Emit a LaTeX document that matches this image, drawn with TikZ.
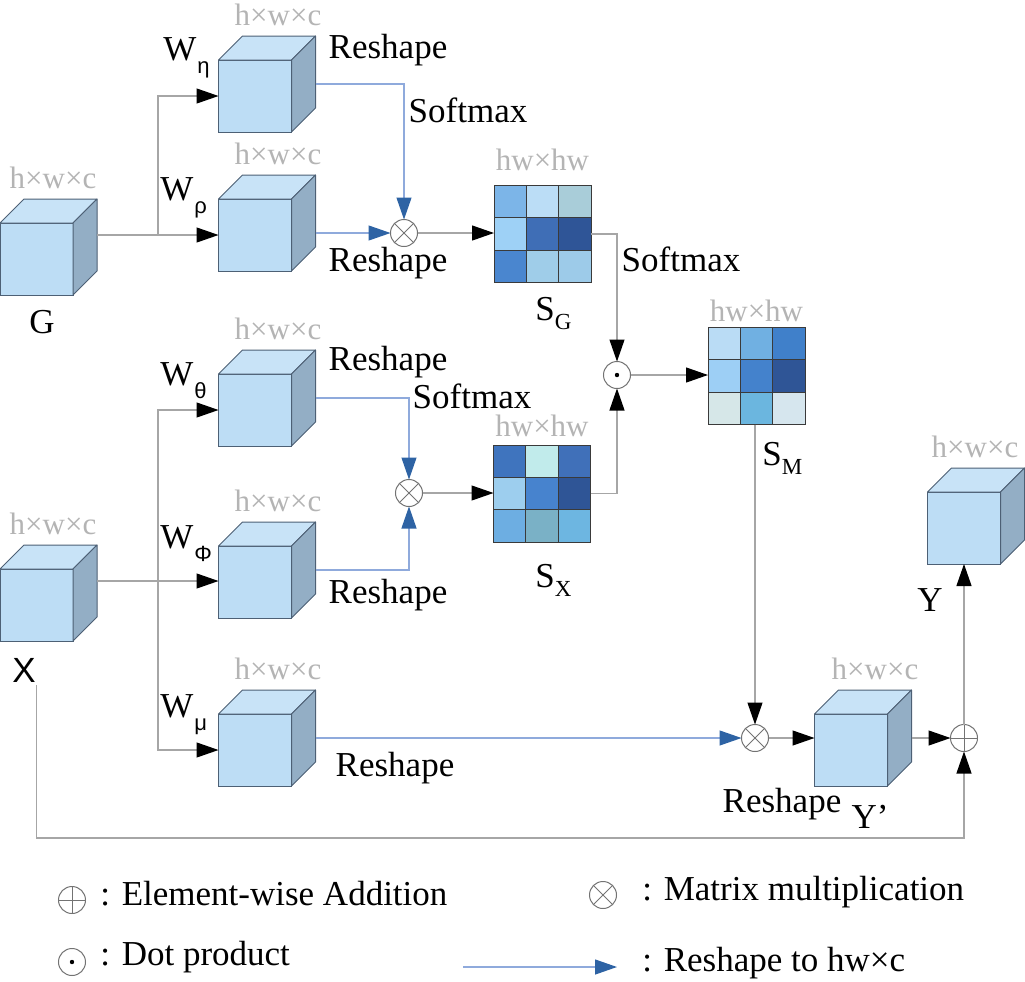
\documentclass[tikz,border=0pt]{standalone}
\usepackage{fontspec}
\setmainfont{Liberation Serif}
\newfontfamily\greekfont{Liberation Sans}
\usepackage{xcolor}
\usepackage{tikz}
\usetikzlibrary{
	arrows.meta,									% 箭头样式
}

\definecolor{cubefront}{HTML}{BDDDF5}
\definecolor{cubetop}{HTML}{C8E3F7}
\definecolor{cubeside}{HTML}{93AEC5}
\definecolor{cubeedge}{HTML}{4D6075}
\definecolor{lineg}{HTML}{A6A6A6}
\definecolor{lineb}{HTML}{8FAADC}
\definecolor{tipb}{HTML}{2E63A4}
\definecolor{dimg}{HTML}{B4B4B4}
\definecolor{cellline}{HTML}{3A3A3A}

\newcommand{\wsub}[1]{W\hspace{0.5pt}\raisebox{-6.5pt}{\fontsize{11}{11}\selectfont\greekfont #1}}
\newcommand{\ssub}[1]{S\raisebox{-4.5pt}{\fontsize{11.5}{11.5}\selectfont #1}}

\tikzset{
	cube/.style={draw=cubeedge, fill=cubefront, line width=0.5pt, minimum width=36.5pt, minimum height=36pt, inner sep=0pt, outer sep=0pt},
	face/.style={draw=cubeedge, line width=0.5pt, line join=round},
	smat/.style={minimum size=48.5pt, inner sep=0pt, outer sep=0pt},
	op/.style={circle, draw=black!55, line width=0.5pt, minimum size=13.5pt, inner sep=0pt, outer sep=0pt},
	mul/.style={op, path picture={\draw[black!55, line width=0.5pt] (path picture bounding box.north west) -- (path picture bounding box.south east) (path picture bounding box.north east) -- (path picture bounding box.south west);}},
	plus/.style={op, path picture={\draw[black!55, line width=0.5pt] (path picture bounding box.north) -- (path picture bounding box.south) (path picture bounding box.west) -- (path picture bounding box.east);}},
	dotp/.style={op, path picture={\fill (path picture bounding box.center) circle (1.1pt);}},
	arr/.style={draw=lineg, line width=0.6pt, -{Triangle[length=11pt, width=7.5pt, color=black]}},
	rarr/.style={draw=lineb, line width=0.6pt, -{Triangle[length=11pt, width=7.5pt, color=tipb]}},
	txt/.style={inner sep=1pt},
	lab/.style={inner sep=0pt},
	dim/.style={text=dimg, inner sep=0pt, font=\fontsize{15.5}{18}\selectfont},
}

\begin{document}
\begin{tikzpicture}[x=0.5pt, y=-0.5pt, font=\fontsize{17.5}{20}\selectfont]
	\useasboundingbox (0,0) rectangle (1025,982);
	% 立方体: 正面 + 顶面 + 侧面
	\foreach \n/\cx/\cy/\dx in {cG/36.5/259/53, cEta/255/96/278, cRho/255/235/278, cTheta/255/410/278, cPhi/255/582/278, cX/36.5/605/53, cMu/255/750/278, cYp/851/750/875, cY/964/528/975}{
		\node[cube] (\n) at (\cx,\cy) {};
		\filldraw[face, fill=cubetop] (\n.north west) -- ++(24,-24) -- ++(73,0) -- (\n.north east) -- cycle;
		\filldraw[face, fill=cubeside] (\n.north east) -- ++(24,-24) -- ++(0,72) -- (\n.south east) -- cycle;
		\coordinate (\n-b) at ([shift={(12pt,12pt)}]\n.east);
		\node[dim] (\n-d) at (\dx,\cy-81) {h×w×c};
	}
	% 3x3 矩阵
	\foreach \m/\cx/\cy/\dy/\cl in {SG/542.5/234/160/{7CB5E8,BBDDF6,A9CDD9,9ED1F6,3F6EB6,2F5597,4A86CF,9FCDE9,9DCBE9}, SX/542/493.5/426/{3F74BE,C1EBEB,4070B9,9DCEEE,4783CE,2F5596,6DAEE2,7AB1C6,6DB6E1}, SM/756.5/376/311/{BADCF5,70B0E2,4080CA,9DCFF5,4482CC,2F5596,D6E7E8,6BB6DF,D6E6EE}}{
		\node[smat] (\m) at (\cx,\cy) {};
		\foreach \hex [count=\i from 0] in \cl {
			\pgfmathtruncatemacro\row{\i/3}
			\pgfmathtruncatemacro\col{mod(\i,3)}
			\definecolor{cellc}{HTML}{\hex}
			\filldraw[fill=cellc, draw=cellline, line width=0.4pt] ([shift={(\col*32.33,\row*32.33)}]\m.north west) rectangle ++(32.33,32.33);
		}
		\node[dim] (\m-d) at (\cx,\dy) {hw×hw};
	}
	% 运算符
	\node[mul] (m1) at (404,233) {};
	\node[mul] (m2) at (409,493) {};
	\node[mul] (m3) at (755,738) {};
	\node[dotp] (dot) at (617,375) {};
	\node[plus] (pl) at (964,738) {};
	% G 分支
	\coordinate (brG) at (158,235);
	\draw[arr] (cG-b) -- (cRho.west);
	\draw[arr] (brG) |- (cEta.west);
	\draw[rarr] ([yshift=-6pt]cEta-b) -| (m1);
	\draw[rarr] (cRho-b |- m1) -- (m1);
	\draw[arr] (m1) -- (m1 -| SG.west);
	\draw[arr] (SG.east) -| (dot);
	% X 分支
	\coordinate (brX) at (158,581);
	\draw[arr] (cX-b) -- (cX-b -| cPhi.west);
	\draw[arr] (brX) |- (cTheta.west);
	\draw[arr] (brX) |- (cMu.west);
	\draw[rarr] ([yshift=-6pt]cTheta-b) -| (m2);
	\draw[rarr] ([yshift=-6pt]cPhi-b) -| (m2);
	\draw[arr] (m2) -- (m2 -| SX.west);
	\draw[arr] (SX.east) -| (dot);
	\draw[arr] (dot) -- (dot -| SM.west);
	% 输出
	\draw[arr] (SM.south -| m3) -- (m3);
	\draw[rarr] (cMu-b |- m3) -- (m3);
	\draw[arr] (m3) -- (m3 -| cYp.west);
	\draw[arr] (cYp-b |- pl) -- (pl);
	\draw[arr] (pl) -- (pl |- cY.south);
	\coordinate (botR) at (964,838);
	\draw[arr] ([yshift=-22pt]cX.south) |- (botR) -- (pl);
	% 文字
	\node[txt] (tRsEta) at (388,50) {Reshape};
	\node[txt] (tSmEta) at (468,110) {Softmax};
	\node[txt] (tRsRho) at (388,263) {Reshape};
	\node[txt] (tSmG) at (681,259) {Softmax};
	\node[txt] (tRsTheta) at (388,362) {Reshape};
	\node[txt] (tSmTheta) at (472,396) {Softmax};
	\node[txt] (tRsPhi) at (388,595) {Reshape};
	\node[txt] (tRsMu) at (395,768) {Reshape};
	\node[txt] (tRsYp) at (782,804) {Reshape};
	\node[txt] (tYp) at (870,817) {Y’};
	\node[txt] (tY) at (930,600) {Y};
	\node[txt] (tG) at (42,322) {G};
	\node[txt, font=\fontsize{17.5}{20}\selectfont\greekfont] (tX) at (24,670) {X};
	\node[lab, anchor=base west] (tSG) at (535,320) {\ssub{G}};
	\node[lab, anchor=base west] (tSX) at (535,587) {\ssub{X}};
	\node[lab, anchor=base west] (tSM) at (762,465) {\ssub{M}};
	\node[lab, anchor=base west] (wEta) at (163,60) {\wsub{η}};
	\node[lab, anchor=base west] (wRho) at (160,200) {\wsub{ρ}};
	\node[lab, anchor=base west] (wTheta) at (160,385) {\wsub{θ}};
	\node[lab, anchor=base west] (wPhi) at (160,548) {\wsub{Φ}};
	\node[lab, anchor=base west] (wMu) at (160,717) {\wsub{μ}};
	% 图例
	\node[plus] (lgPlus) at (72,900) {};
	\node[txt, anchor=west] (lgPlusT) at (98,894) {: Element-wise Addition};
	\node[dotp] (lgDot) at (72,962) {};
	\node[txt, anchor=west] (lgDotT) at (98,957) {: Dot product};
	\node[mul] (lgMul) at (603,895) {};
	\node[txt, anchor=west] (lgMulT) at (640,892) {: Matrix multiplication};
	\coordinate (lgA) at (463,967);
	\coordinate (lgB) at (617,967);
	\draw[rarr] (lgA) -- (lgB);
	\node[txt, anchor=west] (lgRsT) at (640,963) {: Reshape to hw×c};
\end{tikzpicture}
\end{document}
